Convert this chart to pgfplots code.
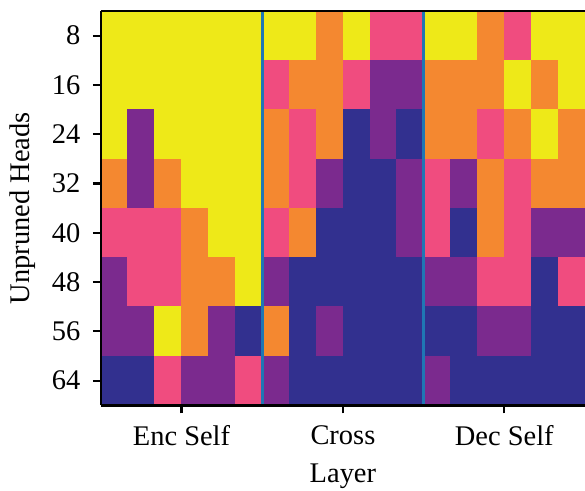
\documentclass[border=0pt]{standalone}
\usepackage{pgfplots}
\pgfplotsset{compat=1.18}
\usepackage{pgfplotstable}
\usepackage{fontspec}
\setmainfont{Liberation Serif}
\definecolor{sepblue}{RGB}{31,119,180}
% y = vertical position (64 = top row "8", 8 = bottom row "64")
\pgfplotstableread{
x y c
0 64 4
1 64 4
2 64 4
3 64 4
4 64 4
5 64 4
6 64 4
7 64 4
8 64 3
9 64 4
10 64 2
11 64 2
12 64 4
13 64 4
14 64 3
15 64 2
16 64 4
17 64 4
0 56 4
1 56 4
2 56 4
3 56 4
4 56 4
5 56 4
6 56 2
7 56 3
8 56 3
9 56 2
10 56 1
11 56 1
12 56 3
13 56 3
14 56 3
15 56 4
16 56 3
17 56 4
0 48 4
1 48 1
2 48 4
3 48 4
4 48 4
5 48 4
6 48 3
7 48 2
8 48 3
9 48 0
10 48 1
11 48 0
12 48 3
13 48 3
14 48 2
15 48 3
16 48 4
17 48 3
0 40 3
1 40 1
2 40 3
3 40 4
4 40 4
5 40 4
6 40 3
7 40 2
8 40 1
9 40 0
10 40 0
11 40 1
12 40 2
13 40 1
14 40 3
15 40 2
16 40 3
17 40 3
0 32 2
1 32 2
2 32 2
3 32 3
4 32 4
5 32 4
6 32 2
7 32 3
8 32 0
9 32 0
10 32 0
11 32 1
12 32 2
13 32 0
14 32 3
15 32 2
16 32 1
17 32 1
0 24 1
1 24 2
2 24 2
3 24 3
4 24 3
5 24 4
6 24 1
7 24 0
8 24 0
9 24 0
10 24 0
11 24 0
12 24 1
13 24 1
14 24 2
15 24 2
16 24 0
17 24 2
0 16 1
1 16 1
2 16 4
3 16 3
4 16 1
5 16 0
6 16 3
7 16 0
8 16 1
9 16 0
10 16 0
11 16 0
12 16 0
13 16 0
14 16 1
15 16 1
16 16 0
17 16 0
0 8 0
1 8 0
2 8 2
3 8 1
4 8 1
5 8 2
6 8 1
7 8 0
8 8 0
9 8 0
10 8 0
11 8 0
12 8 1
13 8 0
14 8 0
15 8 0
16 8 0
17 8 0
}\heat
\begin{document}
\begin{tikzpicture}
\begin{axis}[
  set layers=axis on top,
  mark layer=like plot,
  scale only axis,
  width=485pt, height=395pt,
  xmin=-0.5, xmax=17.5,
  ymin=4, ymax=68,
  axis x line=box,
  axis y line=left,
  axis line style={-, line width=2.4pt, black},
  xtick pos=left,
  tick align=outside,
  major tick length=8pt,
  every tick/.style={line width=2.2pt, black},
  xtick={2.5,8.5,14.5},
  xticklabels={Enc Self, Cross, Dec Self},
  ytick={8,16,24,32,40,48,56,64},
  yticklabels={64,56,48,40,32,24,16,8},
  tick label style={font=\fontsize{28.5}{32}\selectfont},
  xticklabel style={yshift=-9pt},
  yticklabel style={xshift=-9pt},
  xlabel={Layer},
  ylabel={Unpruned Heads},
  every axis y label/.style={at={(axis description cs:-0.162,0.5)}, rotate=90, anchor=center, font=\fontsize{28.5}{32}\selectfont},
  every axis x label/.style={at={(axis description cs:0.5,-0.18)}, anchor=center, font=\fontsize{28.5}{32}\selectfont},
  colormap={heat}{rgb255(0)=(50,48,143) rgb255(1)=(123,42,142) rgb255(2)=(240,76,127) rgb255(3)=(244,136,48) rgb255(4)=(238,233,24)},
  point meta min=0, point meta max=4,
  clip mode=individual,
  clip=false,
]
\addplot[scatter, only marks, point meta=explicit, mark=square*, mark size=13.472pt,
  scatter/use mapped color={draw=mapped color, fill=mapped color},
  every mark/.append style={yscale=1.8325, line width=0.5pt}]
  table[x=x, y=y, meta=c] {\heat};
\addplot[sepblue, line width=2.6pt] coordinates {(5.5,4) (5.5,68)};
\addplot[sepblue, line width=2.6pt] coordinates {(11.5,4) (11.5,68)};
\draw[black, line width=2.4pt] (axis cs:-0.5,68) -- (axis cs:17.5,68);
\draw[black, line width=2.4pt] (axis cs:-0.5,4) -- (axis cs:17.5,4);
\end{axis}
\pgfresetboundingbox
\useasboundingbox ([xshift=-101pt,yshift=-85.3pt]current axis.south west) rectangle ([yshift=11pt]current axis.north east);
\end{tikzpicture}
\end{document}
